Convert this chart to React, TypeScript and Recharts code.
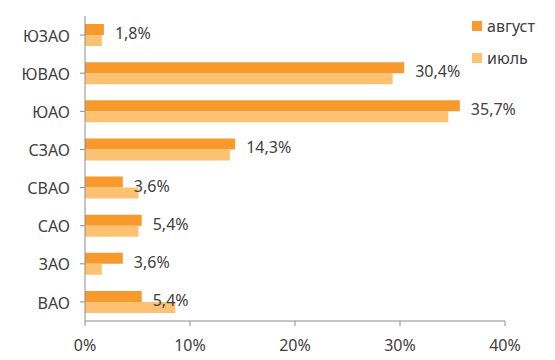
import React from "react";
import { BarChart, Bar, XAxis, YAxis, LabelList } from "recharts";

const categories = ["ЮЗАО", "ЮВАО", "ЮАО", "СЗАО", "СВАО", "САО", "ЗАО", "ВАО"];
const august = [1.8, 30.4, 35.7, 14.3, 3.6, 5.4, 3.6, 5.4];
const july = [1.6, 29.3, 34.6, 13.8, 5.1, 5.1, 1.6, 8.6];
const xTicks = [0, 10, 20, 30, 40];
const seriesNames = ["август", "июль"];
const colors = ["#F7992B", "#FCC171"];

const data = categories.map((c, i) => ({ name: c, august: august[i], july: july[i] }));

const FONT = "'Segoe UI', 'Noto Sans', sans-serif";
const TEXT = "#404040";
const AXIS = "#8c8c8c";

const fmt = (v: number) => v.toFixed(1).replace(".", ",") + "%";

const AugLabel = (props: any) => {
  const { x, y, width, height, value } = props;
  return (
    <text
      x={x + width + 11}
      y={y + height / 2 + 3.5}
      dominantBaseline="central"
      fill={TEXT}
      fontSize={16}
      fontFamily={FONT}
    >
      {fmt(value)}
    </text>
  );
};

export default function App() {
  return (
    <div style={{ position: "absolute", left: 0, top: 0, width: 555, height: 360, background: "#fff" }}>
      <BarChart
        width={555}
        height={360}
        data={data}
        layout="vertical"
        margin={{ top: 16, right: 50, bottom: 9, left: 0 }}
        barGap={0}
        barCategoryGap={8}
      >
        <XAxis
          type="number"
          domain={[0, 40]}
          ticks={xTicks}
          interval={0}
          tickFormatter={(v: number) => `${v}%`}
          stroke={AXIS}
          tickLine={{ stroke: AXIS }}
          tickSize={5}
          height={30}
          tick={{ fill: TEXT, fontSize: 16, fontFamily: FONT, dy: 12 }}
        />
        <YAxis
          type="category"
          dataKey="name"
          width={85}
          stroke={AXIS}
          tickLine={{ stroke: AXIS }}
          tickSize={5}
          tick={{ fill: TEXT, fontSize: 16, fontFamily: FONT, dx: -8, dy: 1 }}
        />
        <Bar dataKey="august" fill={colors[0]} barSize={11} isAnimationActive={false}>
          <LabelList dataKey="august" content={AugLabel} />
        </Bar>
        <Bar dataKey="july" fill={colors[1]} barSize={11} isAnimationActive={false} />
      </BarChart>
      <div style={{ position: "absolute", left: 472, top: 15, fontFamily: FONT, fontSize: 16, color: TEXT }}>
        {seriesNames.map((n, i) => (
          <div key={n} style={{ display: "flex", alignItems: "center", height: 22, marginBottom: i === 0 ? 10 : 0 }}>
            <span style={{ display: "inline-block", width: 10, height: 10, background: colors[i], marginRight: 5 }} />
            <span>{n}</span>
          </div>
        ))}
      </div>
    </div>
  );
}
